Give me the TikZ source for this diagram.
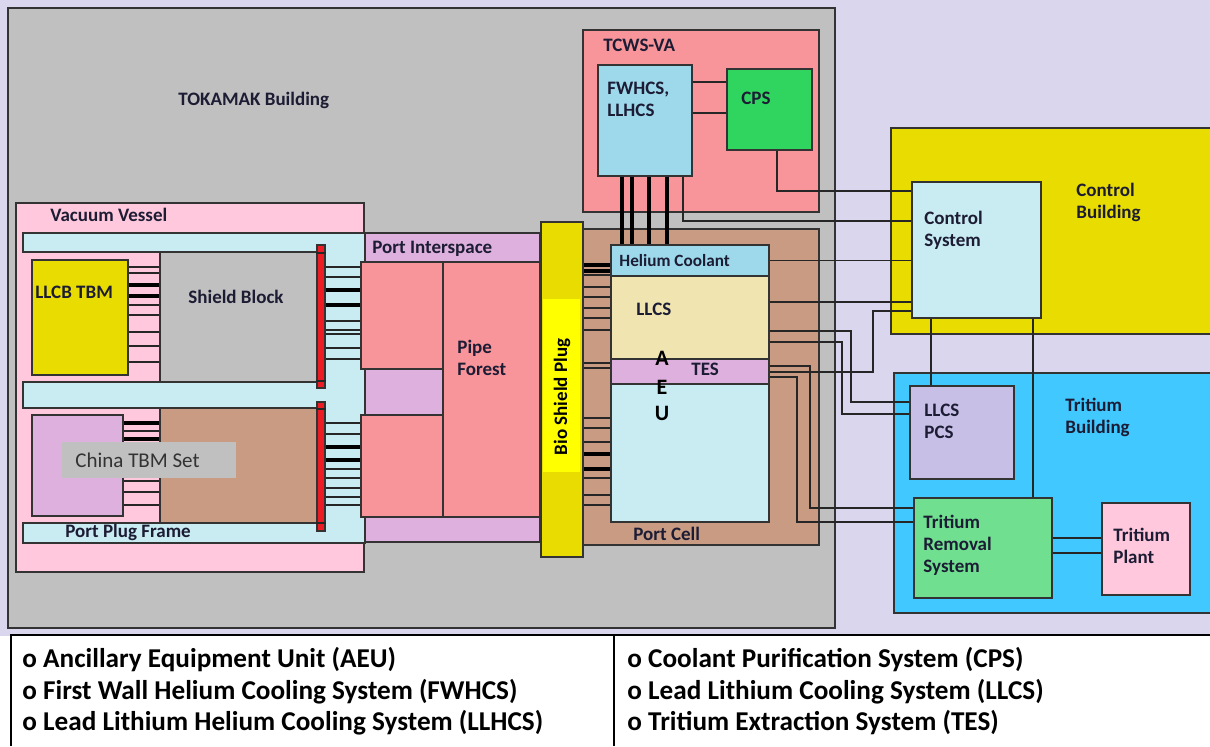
\documentclass[tikz,border=0pt]{standalone}
\usepackage{fontspec}
\setmainfont{Carlito}
\usepackage{graphicx}
\usepackage{tikz}
\usetikzlibrary{fit,calc,positioning}

\definecolor{lav}{HTML}{DAD6EE}
\definecolor{grayb}{HTML}{C0C0C0}
\definecolor{vpink}{HTML}{FFC8DC}
\definecolor{cyanl}{HTML}{C8ECF2}
\definecolor{ylw}{HTML}{E8DC00}
\definecolor{byl}{HTML}{FFFF00}
\definecolor{purp}{HTML}{DDB0DD}
\definecolor{brn}{HTML}{C99B83}
\definecolor{redb}{HTML}{EC1C24}
\definecolor{salm}{HTML}{F8959A}
\definecolor{lblue}{HTML}{9DD9EB}
\definecolor{beige}{HTML}{F0E4B0}
\definecolor{grn}{HTML}{30D560}
\definecolor{trb}{HTML}{40C8FF}
\definecolor{lilac}{HTML}{C8BFE6}
\definecolor{lgrn}{HTML}{70E090}
\definecolor{txt}{HTML}{1C1C34}

\begin{document}
\begin{tikzpicture}[x=0.5pt,y=-0.5pt,
  font=\fontsize{9.5}{11}\selectfont\bfseries,
  blk/.style={draw=black!80,line width=0.7pt,inner sep=0pt},
  lbl/.style={anchor=west,align=left,text=txt,inner sep=0pt},
  leg/.style={anchor=west,inner sep=0pt,font=\fontsize{13.6}{15}\selectfont\bfseries},
  wire/.style={draw=black!85,line width=0.7pt},
  fat/.style={draw=black,line width=2pt}
]
\useasboundingbox (0,0) rectangle (1210,746);
\fill[lav] (0,0) rectangle (1210,636);
\fill[white] (0,636) rectangle (1210,746);

% buildings
\node[blk,line width=1pt,fill=grayb,fit={(8,8)(835,628)}] (tok) {};
\node[lbl] at (178,100) {TOKAMAK Building};
\node[blk,fill=ylw,fit={(891,128)(1214,334)}] (cb) {};
\node[lbl] at (1076,202.5) {Control\\Building};
\node[blk,fill=trb,fit={(894,373)(1214,613)}] (tb) {};
\node[lbl] at (1065,417) {Tritium\\Building};

% vacuum vessel and port plug
\node[blk,fill=vpink,fit={(16,203)(364,572)}] (vv) {};
\node[lbl] at (50,215) {Vacuum Vessel};
\filldraw[fill=cyanl,draw=black!80,line width=0.7pt] (23,233) -- (365,233) -- (365,543) -- (23,543) -- (23,523)
  -- (317,523) -- (317,408) -- (23,408) -- (23,382) -- (317,382) -- (317,252) -- (23,252) -- cycle;
\node[lbl] at (65,532) {Port Plug Frame};
\node[blk,fill=grayb,fit={(160,252)(317,382)}] (sb) {};
\node[lbl] at (188,297) {Shield Block};
\node[blk,fill=brn,fit={(160,408)(317,523)}] (br) {};
\node[blk,fill=ylw,fit={(32,260)(128,375)}] (llcb) {};
\node[lbl] at (35,292) {LLCB TBM};
\node[blk,fill=purp,fit={(32,415)(123,516)}] (ctbm) {};
\node[blk,fill=redb,fit={(317,245)(325,388)}] (rbu) {};
\node[blk,fill=redb,fit={(317,402)(325,531)}] (rbl) {};
\foreach \y in {253,381} \draw[wire] (rbu.west |- 0,\y) -- (rbu.east |- 0,\y);
\foreach \y in {409,523} \draw[wire] (rbl.west |- 0,\y) -- (rbl.east |- 0,\y);

% port interspace
\node[blk,fill=purp,fit={(365,233)(540,542)}] (pis) {};
\node[lbl] at (372,249) {Port Interspace};
\node[blk,fill=salm,fit={(361,262)(443,369)}] (pia) {};
\node[blk,fill=salm,fit={(361,415)(443,517)}] (pib) {};
\node[blk,fill=salm,fit={(443,262)(540,517)}] (pf) {};
\node[lbl] at (457,358) {Pipe\\Forest};

% port cell
\node[blk,fill=brn,fit={(583,229)(819,545)}] (pc) {};
\node[lbl] at (633,534) {Port Cell};
\node[blk,fill=ylw,fit={(541,222)(583,557)}] (bsp) {};
\fill[byl] (543,299) rectangle (580,472);
\node[rotate=90,text=black] at (562,397) {Bio Shield Plug};
\node[blk,fit={(611,245)(769,522)}] (aeu) {};
\node[blk,fill=lblue,fit={(611,245)(769,276)}] (he) {};
\node[blk,fill=beige,fit={(611,276)(769,359)}] (llcs) {};
\node[blk,fill=purp,fit={(611,359)(769,384)}] (tes) {};
\node[blk,fill=cyanl,fit={(611,384)(769,522)}] (aeub) {};
\node[lbl,font=\fontsize{8.6}{10}\selectfont\bfseries] at (619,261) {Helium Coolant};
\node[lbl] at (636,309) {LLCS};
\node[lbl] at (691,369) {TES};
\foreach \c/\y in {A/358,E/387,U/413}
  \node[text=black,font=\fontsize{11}{11}\selectfont\bfseries] at (662,\y) {\c};

% TCWS vault
\node[blk,fill=salm,fit={(583,30)(819,212)}] (tcws) {};
\node[lbl] at (603,45) {TCWS-VA};
\node[blk,fill=lblue,fit={(598,65)(692,176)}] (fw) {};
\node[lbl] at (607,99) {FWHCS,\\LLHCS};
\node[blk,fill=grn,fit={(727,69)(812,150)}] (cps) {};
\node[lbl] at (741,98) {CPS};

% control and tritium systems
\node[blk,fill=cyanl,fit={(912,182)(1041,318)}] (cs) {};
\node[lbl] at (924,230.5) {Control\\System};
\node[blk,fill=lilac,fit={(910,386)(1014,479)}] (pcs) {};
\node[lbl] at (924,421) {LLCS\\PCS};
\node[blk,fill=lgrn,fit={(914,498)(1052,598)}] (trs) {};
\node[lbl] at (923,545) {Tritium\\Removal\\System};
\node[blk,fill=vpink,fit={(1102,503)(1190,595)}] (tp) {};
\node[lbl] at (1113,545.5) {Tritium\\Plant};

% China TBM set tag
\node[fill=grayb,inner sep=0pt,fit={(62,442)(236,478)}] (tag) {};
\node[anchor=west,inner sep=0pt,text=black!80,font=\fontsize{10.5}{12}\selectfont] at (75,460) {China TBM Set};

% pipe stubs
\foreach \y in {267,273,305,315,332,346,362} \draw[wire] (llcb.east |- 0,\y) -- (sb.west |- 0,\y);
\foreach \y in {285,296} \draw[fat] (llcb.east |- 0,\y) -- (sb.west |- 0,\y);
\foreach \y in {431,481,492,505} \draw[wire] (ctbm.east |- 0,\y) -- (br.west |- 0,\y);
\foreach \y in {423,439} \draw[fat] (ctbm.east |- 0,\y) -- (br.west |- 0,\y);
\foreach \y in {267,277,321,330,334,348,359} \draw[wire] (rbu.east |- 0,\y) -- (pia.west |- 0,\y);
\foreach \y in {290,305} \draw[fat] (rbu.east |- 0,\y) -- (pia.west |- 0,\y);
\foreach \y in {423,434,469,478,488,497,505} \draw[wire] (rbl.east |- 0,\y) -- (pib.west |- 0,\y);
\foreach \y in {447,460} \draw[fat] (rbl.east |- 0,\y) -- (pib.west |- 0,\y);
\foreach \y in {275,287,297,308,318,330,363,368,418,428,442,478,495,505}
  \draw[wire] (bsp.east |- 0,\y) -- (aeu.west |- 0,\y);
\foreach \y in {265,271,454,469} \draw[fat] (bsp.east |- 0,\y) -- (aeu.west |- 0,\y);

% connectors
\draw[wire] (fw.east |- 0,82) -- (cps.west |- 0,82);
\draw[wire] (fw.east |- 0,113) -- (cps.west |- 0,113);
\foreach \x in {622,632,649,667} \draw[fat] (fw.south -| \x,0) -- (he.north -| \x,0);
\draw[wire] (fw.south -| 683,0) |- (cs.west |- 0,221);
\draw[wire] (cps.south -| 777,0) |- (cs.west |- 0,191);
\draw[wire] (he.east) -- (cs.west |- he.east);
\draw[wire] (llcs.east |- 0,302) -- (cs.west |- 0,302);
\draw[wire] (tes.east |- 0,372) -| (873,311) -- (cs.west |- 0,311);
\draw[wire] (llcs.east |- 0,331) -| (851,402) -- (pcs.west |- 0,402);
\draw[wire] (llcs.east |- 0,342) -| (842,414) -- (pcs.west |- 0,414);
\draw[wire] (tes.east |- 0,366) -| (810,508) -- (trs.west |- 0,508);
\draw[wire] (tes.east |- 0,377) -| (797,522) -- (trs.west |- 0,522);
\draw[wire] (cs.south -| 931,0) -- (pcs.north -| 931,0);
\draw[wire] (cs.south -| 1033,0) -- (trs.north -| 1033,0);
\draw[wire] (trs.east |- 0,538) -- (tp.west |- 0,538);
\draw[wire] (trs.east |- 0,553) -- (tp.west |- 0,553);

% legend
\draw[line width=1.2pt] (11,746) -- (11,635) -- (1210,635);
\draw[line width=0.8pt] (614,635) -- (614,746);
\node[leg] (l1) at (22,660) {o Ancillary Equipment Unit (AEU)};
\node[leg] (l2) at (22,692) {o First Wall Helium Cooling System (FWHCS)};
\node[leg] (l3) at (22,723) {o Lead Lithium Helium Cooling System (LLHCS)};
\node[leg] (r1) at (627,660) {o Coolant Purification System (CPS)};
\node[leg] (r2) at (627,692) {o Lead Lithium Cooling System (LLCS)};
\node[leg] (r3) at (627,723) {o Tritium Extraction System (TES)};
\end{tikzpicture}
\end{document}
